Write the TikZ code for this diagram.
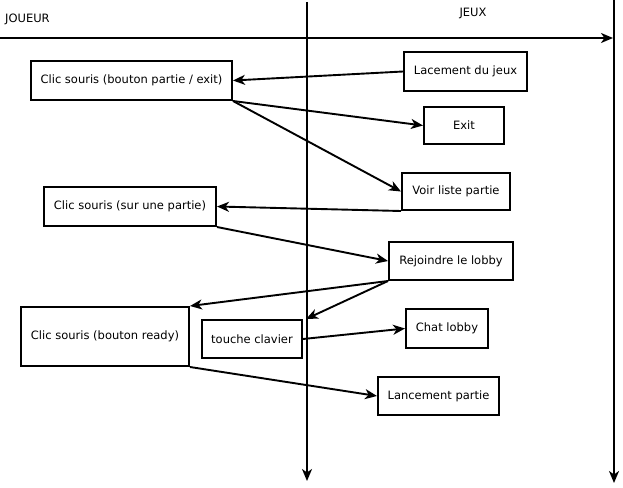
\documentclass[tikz,border=0pt]{standalone}
\usepackage{fontspec}
\setmainfont{DejaVu Sans}
\usetikzlibrary{arrows.meta}
\begin{document}
\begin{tikzpicture}[x=1pt,y=-1pt,
  box/.style={draw,line width=2pt,inner sep=0pt,font=\fontsize{11.5}{13}\selectfont},
  conn/.style={line width=1.9pt,-{Stealth[length=12pt,width=10pt,inset=3.5pt]}},
  lbl/.style={inner sep=0pt,font=\fontsize{11.5}{13}\selectfont}]
\useasboundingbox (0,0) rectangle (623,487);
% axes
\coordinate (hL) at (0,38);
\coordinate (hR) at (613,38);
\coordinate (v1t) at (307,2);
\coordinate (v1b) at (307,481);
\coordinate (v2t) at (614,0);
\coordinate (v2b) at (614,483);
\draw[conn] (hL) -- (hR);
\draw[conn] (v1t) -- (v1b);
\draw[conn] (v2t) -- (v2b);
\node[lbl,anchor=west] (joueur) at (5,19) {JOUEUR};
\node[lbl] (jeux) at (473,13) {JEUX};
% boxes
\node[box,minimum width=201pt,minimum height=39pt] (cpe) at (131.5,80.5) {Clic souris (bouton partie / exit)};
\node[box,minimum width=123pt,minimum height=39pt] (lac) at (465.5,71.5) {Lacement du jeux};
\node[box,minimum width=80pt,minimum height=37pt] (exit) at (464,125.5) {Exit};
\node[box,minimum width=108pt,minimum height=37pt] (voir) at (456,191.5) {Voir liste partie};
\node[box,minimum width=172pt,minimum height=39pt] (csp) at (130,206.5) {Clic souris (sur une partie)};
\node[box,minimum width=124pt,minimum height=38pt] (rej) at (451,261) {Rejoindre le lobby};
\node[box,minimum width=82pt,minimum height=39pt] (chat) at (447,328.5) {Chat lobby};
\node[box,minimum width=121pt,minimum height=38pt] (lanc) at (438.5,396) {Lancement partie};
\node[box,minimum width=168pt,minimum height=59pt] (cready) at (105,336.5) {Clic souris (bouton ready)};
\node[box,minimum width=100pt,minimum height=38pt] (touche) at (252,339) {touche clavier};
% connectors
\draw[conn] (lac.west) -- (cpe.east);
\draw[conn] (cpe.south east) -- (exit.west);
\draw[conn] (cpe.south east) -- (voir.west);
\draw[conn] (voir.south west) -- (csp.east);
\draw[conn] (csp.south east) -- (rej.west);
\draw[conn] (rej.south west) -- (cready.north east);
\draw[conn] (rej.south west) -- ([xshift=3pt]touche.north east);
\draw[conn] (touche.east) -- (chat.west);
\draw[conn] (cready.south east) -- (lanc.west);
\end{tikzpicture}
\end{document}
